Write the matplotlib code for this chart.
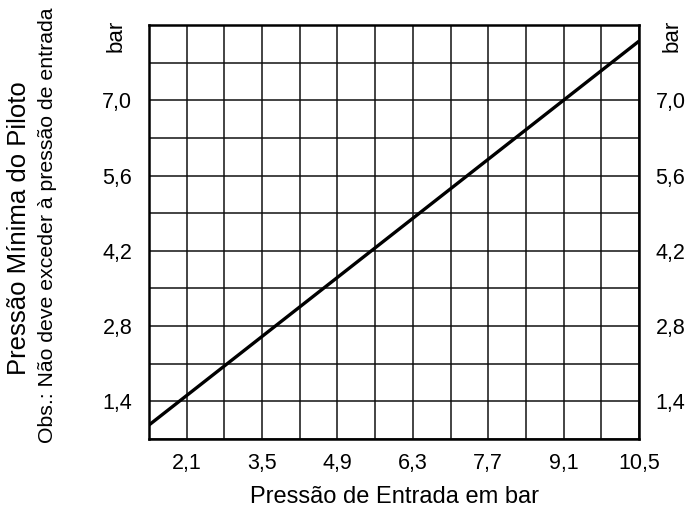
import matplotlib
matplotlib.use("Agg")
import matplotlib.pyplot as plt
import numpy as np

plt.rcParams['font.family'] = ['Liberation Sans', 'DejaVu Sans']

# Data
entrada = [1.4, 10.5]          # Pressão de Entrada (bar)
piloto = [0.96, 8.1]           # Pressão Mínima do Piloto (bar)

x_ticks = [2.1, 3.5, 4.9, 6.3, 7.7, 9.1, 10.5]
x_labels = ["2,1", "3,5", "4,9", "6,3", "7,7", "9,1", "10,5"]
y_ticks = [1.4, 2.8, 4.2, 5.6, 7.0]
y_labels = ["1,4", "2,8", "4,2", "5,6", "7,0"]
grid_x = [round(1.4 + 0.7 * i, 2) for i in range(14)]
grid_y = [round(0.7 + 0.7 * i, 2) for i in range(12)]

fig = plt.figure(figsize=(6.89, 5.12), dpi=100)
ax = fig.add_axes([149/689, 1 - 439/512, (639-149)/689, (439-25)/512])

ax.set_xlim(1.4, 10.5)
ax.set_ylim(0.7, 8.4)

for gx in grid_x:
    ax.axvline(gx, color='#111111', lw=1.1, zorder=1)
for gy in grid_y:
    ax.axhline(gy, color='#111111', lw=1.1, zorder=1)

ax.plot(entrada, piloto, color='black', lw=2.4, solid_capstyle='butt', zorder=3)

ax.set_xticks(x_ticks)
ax.set_xticklabels(x_labels)
ax.set_yticks(y_ticks)
ax.set_yticklabels(y_labels)
ax.tick_params(axis='both', length=0, labelsize=15.5)
ax.tick_params(axis='x', pad=10)
ax.tick_params(axis='y', pad=12, labelright=True, right=False)

for s in ax.spines.values():
    s.set_linewidth(1.8)
    s.set_color('black')

ax.set_xlabel("Pressão de Entrada em bar", fontsize=17, labelpad=9)

# "bar" unit labels
ax.text(-0.067, 1.012, "bar", transform=ax.transAxes, rotation=90,
        ha='center', va='top', fontsize=16)
ax.text(1.067, 1.012, "bar", transform=ax.transAxes, rotation=90,
        ha='center', va='top', fontsize=16)

fig.text(19/689, 1 - 228/512, "Pressão Mínima do Piloto", rotation=90,
         ha='center', va='center', fontsize=18.5)
fig.text(48/689, 1 - 225/512, "Obs.: Não deve exceder à pressão de entrada",
         rotation=90, ha='center', va='center', fontsize=15.3)

fig.savefig("out.png", dpi=100)
